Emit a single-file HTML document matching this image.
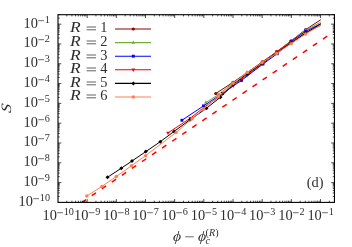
<!DOCTYPE html>
<html><head><meta charset="utf-8"><title>plot</title>
<style>html,body{margin:0;padding:0;background:#fff;}body{width:352px;height:247px;overflow:hidden;font-family:"Liberation Serif",serif;}svg{display:block;position:absolute;left:0;top:0;}text{font-family:"Liberation Serif",serif;}text{filter:grayscale(1);}</style>
</head><body>
<svg width="352" height="247" viewBox="0 0 352 247">
<rect x="0" y="0" width="352" height="247" fill="#fff"/>
<defs><clipPath id="cp"><rect x="58.00" y="14.70" width="276.45" height="187.70"/></clipPath></defs>
<g clip-path="url(#cp)">
<path d="M81.65,202.50 L334.50,31.32" stroke="#ff0000" stroke-width="1.5" stroke-dasharray="5.2 6.94" stroke-dashoffset="0" fill="none"/>
</g>
<path d="M215.80,93.50 L233.00,82.30 L247.50,72.30 L262.30,61.90 L276.80,51.60 L291.10,40.90 L305.65,29.60 L320.80,19.70" stroke="#8b0000" stroke-width="1.0" fill="none" stroke-linejoin="round"/>
<circle cx="215.8" cy="93.5" r="1.6" fill="#8b0000"/>
<circle cx="233" cy="82.3" r="1.6" fill="#8b0000"/>
<circle cx="247.5" cy="72.3" r="1.6" fill="#8b0000"/>
<circle cx="262.3" cy="61.9" r="1.6" fill="#8b0000"/>
<circle cx="276.8" cy="51.6" r="1.6" fill="#8b0000"/>
<circle cx="291.1" cy="40.9" r="1.6" fill="#8b0000"/>
<circle cx="305.65" cy="29.6" r="1.6" fill="#8b0000"/>
<path d="M205.90,102.50 L218.50,94.50 L233.00,82.90 L247.50,72.90 L262.30,62.60 L276.80,52.10 L291.10,41.20 L305.65,30.30 L320.80,22.10" stroke="#72ae33" stroke-width="1.0" fill="none" stroke-linejoin="round"/>
<path d="M205.9,100.3 L207.70000000000002,103.7 L204.1,103.7 Z" fill="#72ae33"/>
<path d="M218.5,92.3 L220.3,95.7 L216.7,95.7 Z" fill="#72ae33"/>
<path d="M233,80.7 L234.8,84.10000000000001 L231.2,84.10000000000001 Z" fill="#72ae33"/>
<path d="M247.5,70.7 L249.3,74.10000000000001 L245.7,74.10000000000001 Z" fill="#72ae33"/>
<path d="M262.3,60.4 L264.1,63.800000000000004 L260.5,63.800000000000004 Z" fill="#72ae33"/>
<path d="M276.8,49.9 L278.6,53.300000000000004 L275.0,53.300000000000004 Z" fill="#72ae33"/>
<path d="M291.1,39.0 L292.90000000000003,42.400000000000006 L289.3,42.400000000000006 Z" fill="#72ae33"/>
<path d="M305.65,28.1 L307.45,31.5 L303.84999999999997,31.5 Z" fill="#72ae33"/>
<path d="M181.90,120.30 L203.50,105.90 L222.50,93.40 L241.50,80.40 L263.00,64.00 L277.20,53.70 L291.10,41.50 L305.65,31.30 L320.80,23.70" stroke="#0000ff" stroke-width="1.0" fill="none" stroke-linejoin="round"/>
<rect x="180.45" y="118.85" width="2.9" height="2.9" fill="#0000ff"/>
<rect x="202.05" y="104.45" width="2.9" height="2.9" fill="#0000ff"/>
<rect x="221.05" y="91.95" width="2.9" height="2.9" fill="#0000ff"/>
<rect x="240.05" y="78.95" width="2.9" height="2.9" fill="#0000ff"/>
<rect x="261.55" y="62.55" width="2.9" height="2.9" fill="#0000ff"/>
<rect x="275.75" y="52.25" width="2.9" height="2.9" fill="#0000ff"/>
<rect x="289.65" y="40.05" width="2.9" height="2.9" fill="#0000ff"/>
<rect x="304.20" y="29.85" width="2.9" height="2.9" fill="#0000ff"/>
<path d="M168.00,132.90 L190.20,118.30 L204.00,107.30 L218.40,97.30 L233.30,85.60 L247.50,74.80 L262.50,63.80 L276.80,51.80 L291.20,42.00 L305.50,33.00 L320.80,25.20" stroke="#f00000" stroke-width="1.0" fill="none" stroke-linejoin="round"/>
<path d="M168,135.1 L169.8,131.70000000000002 L166.2,131.70000000000002 Z" fill="#f00000"/>
<path d="M190.2,120.5 L192.0,117.1 L188.39999999999998,117.1 Z" fill="#f00000"/>
<path d="M218.4,99.5 L220.20000000000002,96.1 L216.6,96.1 Z" fill="#f00000"/>
<path d="M233.3,87.8 L235.10000000000002,84.39999999999999 L231.5,84.39999999999999 Z" fill="#f00000"/>
<path d="M247.5,77.0 L249.3,73.6 L245.7,73.6 Z" fill="#f00000"/>
<path d="M262.5,66.0 L264.3,62.599999999999994 L260.7,62.599999999999994 Z" fill="#f00000"/>
<path d="M276.8,54.0 L278.6,50.599999999999994 L275.0,50.599999999999994 Z" fill="#f00000"/>
<path d="M291.2,44.2 L293.0,40.8 L289.4,40.8 Z" fill="#f00000"/>
<path d="M305.5,35.2 L307.3,31.8 L303.7,31.8 Z" fill="#f00000"/>
<path d="M107.50,177.30 L121.30,168.20 L132.00,161.00 L145.80,151.60 L160.30,141.70 L174.10,131.40 L190.00,119.80 L206.50,108.20 L220.40,97.20 L233.00,84.50 L247.50,73.70 L262.40,63.00 L276.80,52.90 L291.20,43.10 L305.65,33.00 L320.80,23.90" stroke="#000000" stroke-width="1.0" fill="none" stroke-linejoin="round"/>
<path d="M107.5,175.3 L109.5,177.3 L107.5,179.3 L105.5,177.3 Z" fill="#000000"/>
<path d="M121.3,166.2 L123.3,168.2 L121.3,170.2 L119.3,168.2 Z" fill="#000000"/>
<path d="M132,159.0 L134.0,161 L132,163.0 L130.0,161 Z" fill="#000000"/>
<path d="M145.8,149.6 L147.8,151.6 L145.8,153.6 L143.8,151.6 Z" fill="#000000"/>
<path d="M160.3,139.7 L162.3,141.7 L160.3,143.7 L158.3,141.7 Z" fill="#000000"/>
<path d="M174.1,129.4 L176.1,131.4 L174.1,133.4 L172.1,131.4 Z" fill="#000000"/>
<path d="M190,117.8 L192.0,119.8 L190,121.8 L188.0,119.8 Z" fill="#000000"/>
<path d="M206.5,106.2 L208.5,108.2 L206.5,110.2 L204.5,108.2 Z" fill="#000000"/>
<path d="M220.4,95.2 L222.4,97.2 L220.4,99.2 L218.4,97.2 Z" fill="#000000"/>
<path d="M233,82.5 L235.0,84.5 L233,86.5 L231.0,84.5 Z" fill="#000000"/>
<path d="M247.5,71.7 L249.5,73.7 L247.5,75.7 L245.5,73.7 Z" fill="#000000"/>
<path d="M262.4,61.0 L264.4,63.0 L262.4,65.0 L260.4,63.0 Z" fill="#000000"/>
<path d="M276.8,50.9 L278.8,52.9 L276.8,54.9 L274.8,52.9 Z" fill="#000000"/>
<path d="M291.2,41.1 L293.2,43.1 L291.2,45.1 L289.2,43.1 Z" fill="#000000"/>
<path d="M305.65,31.0 L307.65,33.0 L305.65,35.0 L303.65,33.0 Z" fill="#000000"/>
<path d="M86.80,196.00 L101.90,186.40 L116.30,176.50 L131.50,165.70 L145.50,155.70 L176.10,132.40 L192.10,118.80 L203.50,109.00 L218.40,96.50 L233.00,83.30 L247.50,72.40 L262.20,62.60 L276.70,53.30 L291.30,43.60 L305.65,34.00 L320.80,25.00" stroke="#ff7f50" stroke-width="1.0" fill="none" stroke-linejoin="round"/>
<circle cx="86.8" cy="196.0" r="1.7" fill="#ff7f50"/>
<circle cx="101.9" cy="186.4" r="1.7" fill="#ff7f50"/>
<circle cx="116.3" cy="176.5" r="1.7" fill="#ff7f50"/>
<circle cx="131.5" cy="165.7" r="1.7" fill="#ff7f50"/>
<circle cx="145.5" cy="155.7" r="1.7" fill="#ff7f50"/>
<circle cx="176.1" cy="132.4" r="1.7" fill="#ff7f50"/>
<circle cx="192.1" cy="118.8" r="1.7" fill="#ff7f50"/>
<circle cx="203.5" cy="109" r="1.7" fill="#ff7f50"/>
<circle cx="218.4" cy="96.5" r="1.7" fill="#ff7f50"/>
<circle cx="233" cy="83.3" r="1.7" fill="#ff7f50"/>
<circle cx="247.5" cy="72.4" r="1.7" fill="#ff7f50"/>
<circle cx="262.2" cy="62.6" r="1.7" fill="#ff7f50"/>
<circle cx="276.7" cy="53.3" r="1.7" fill="#ff7f50"/>
<circle cx="291.3" cy="43.6" r="1.7" fill="#ff7f50"/>
<circle cx="305.65" cy="34" r="1.7" fill="#ff7f50"/>
<path d="M115,29.0 L151,29.0" stroke="#8b0000" stroke-width="1.1" fill="none"/>
<circle cx="133.3" cy="29.0" r="1.6" fill="#8b0000"/>
<text transform="translate(69.90,32.00) scale(1.28,1)" font-size="13.7" font-style="italic" text-anchor="start" fill="#2e2e2e">R</text>
<path d="M86.60,27.00 H96.00" stroke="#2e2e2e" stroke-width="0.75" fill="none"/>
<path d="M86.60,29.80 H96.00" stroke="#2e2e2e" stroke-width="0.75" fill="none"/>
<text transform="translate(100.30,32.00) scale(1.05,1)" font-size="13.7" text-anchor="start" fill="#2e2e2e">1</text>
<path d="M115,42.6 L151,42.6" stroke="#72ae33" stroke-width="1.1" fill="none"/>
<path d="M133.3,40.4 L135.10000000000002,43.800000000000004 L131.5,43.800000000000004 Z" fill="#72ae33"/>
<text transform="translate(69.90,46.00) scale(1.28,1)" font-size="13.7" font-style="italic" text-anchor="start" fill="#2e2e2e">R</text>
<path d="M86.60,41.00 H96.00" stroke="#2e2e2e" stroke-width="0.75" fill="none"/>
<path d="M86.60,43.80 H96.00" stroke="#2e2e2e" stroke-width="0.75" fill="none"/>
<text transform="translate(100.30,46.00) scale(1.05,1)" font-size="13.7" text-anchor="start" fill="#2e2e2e">2</text>
<path d="M115,56.2 L151,56.2" stroke="#0000ff" stroke-width="1.1" fill="none"/>
<rect x="131.85" y="54.75" width="2.9" height="2.9" fill="#0000ff"/>
<text transform="translate(69.90,60.00) scale(1.28,1)" font-size="13.7" font-style="italic" text-anchor="start" fill="#2e2e2e">R</text>
<path d="M86.60,55.00 H96.00" stroke="#2e2e2e" stroke-width="0.75" fill="none"/>
<path d="M86.60,57.80 H96.00" stroke="#2e2e2e" stroke-width="0.75" fill="none"/>
<text transform="translate(100.30,60.00) scale(1.05,1)" font-size="13.7" text-anchor="start" fill="#2e2e2e">3</text>
<path d="M115,69.8 L151,69.8" stroke="#f00000" stroke-width="1.1" fill="none"/>
<path d="M133.3,72.0 L135.10000000000002,68.6 L131.5,68.6 Z" fill="#f00000"/>
<text transform="translate(69.90,73.00) scale(1.28,1)" font-size="13.7" font-style="italic" text-anchor="start" fill="#2e2e2e">R</text>
<path d="M86.60,68.00 H96.00" stroke="#2e2e2e" stroke-width="0.75" fill="none"/>
<path d="M86.60,70.80 H96.00" stroke="#2e2e2e" stroke-width="0.75" fill="none"/>
<text transform="translate(100.30,73.00) scale(1.05,1)" font-size="13.7" text-anchor="start" fill="#2e2e2e">4</text>
<path d="M115,83.4 L151,83.4" stroke="#000000" stroke-width="1.1" fill="none"/>
<path d="M133.3,81.4 L135.3,83.4 L133.3,85.4 L131.3,83.4 Z" fill="#000000"/>
<text transform="translate(69.90,87.00) scale(1.28,1)" font-size="13.7" font-style="italic" text-anchor="start" fill="#2e2e2e">R</text>
<path d="M86.60,82.00 H96.00" stroke="#2e2e2e" stroke-width="0.75" fill="none"/>
<path d="M86.60,84.80 H96.00" stroke="#2e2e2e" stroke-width="0.75" fill="none"/>
<text transform="translate(100.30,87.00) scale(1.05,1)" font-size="13.7" text-anchor="start" fill="#2e2e2e">5</text>
<path d="M115,97.0 L151,97.0" stroke="#ff7f50" stroke-width="1.1" fill="none"/>
<circle cx="133.3" cy="97.0" r="1.7" fill="#ff7f50"/>
<text transform="translate(69.90,100.00) scale(1.28,1)" font-size="13.7" font-style="italic" text-anchor="start" fill="#2e2e2e">R</text>
<path d="M86.60,95.00 H96.00" stroke="#2e2e2e" stroke-width="0.75" fill="none"/>
<path d="M86.60,97.80 H96.00" stroke="#2e2e2e" stroke-width="0.75" fill="none"/>
<text transform="translate(100.30,100.00) scale(1.05,1)" font-size="13.7" text-anchor="start" fill="#2e2e2e">6</text>
<rect x="58.0" y="14.7" width="276.45" height="187.70" fill="none" stroke="#000" stroke-width="1.1"/>
<path d="M66.78,202.4 v-1.7 M66.78,14.7 v1.7 M58.0,196.44 h1.7 M334.45,196.44 h-1.7 M71.92,202.4 v-1.7 M71.92,14.7 v1.7 M58.0,192.95 h1.7 M334.45,192.95 h-1.7 M75.56,202.4 v-1.7 M75.56,14.7 v1.7 M58.0,190.48 h1.7 M334.45,190.48 h-1.7 M78.39,202.4 v-1.7 M78.39,14.7 v1.7 M58.0,188.56 h1.7 M334.45,188.56 h-1.7 M80.70,202.4 v-1.7 M80.70,14.7 v1.7 M58.0,186.99 h1.7 M334.45,186.99 h-1.7 M82.65,202.4 v-1.7 M82.65,14.7 v1.7 M58.0,185.66 h1.7 M334.45,185.66 h-1.7 M84.34,202.4 v-1.7 M84.34,14.7 v1.7 M58.0,184.51 h1.7 M334.45,184.51 h-1.7 M85.84,202.4 v-1.7 M85.84,14.7 v1.7 M58.0,183.50 h1.7 M334.45,183.50 h-1.7 M87.17,202.4 v-3.3 M87.17,14.7 v3.3 M58.0,182.59 h3.3 M334.45,182.59 h-3.3 M95.95,202.4 v-1.7 M95.95,14.7 v1.7 M58.0,176.63 h1.7 M334.45,176.63 h-1.7 M101.09,202.4 v-1.7 M101.09,14.7 v1.7 M58.0,173.14 h1.7 M334.45,173.14 h-1.7 M104.73,202.4 v-1.7 M104.73,14.7 v1.7 M58.0,170.67 h1.7 M334.45,170.67 h-1.7 M107.56,202.4 v-1.7 M107.56,14.7 v1.7 M58.0,168.75 h1.7 M334.45,168.75 h-1.7 M109.87,202.4 v-1.7 M109.87,14.7 v1.7 M58.0,167.18 h1.7 M334.45,167.18 h-1.7 M111.82,202.4 v-1.7 M111.82,14.7 v1.7 M58.0,165.86 h1.7 M334.45,165.86 h-1.7 M113.51,202.4 v-1.7 M113.51,14.7 v1.7 M58.0,164.71 h1.7 M334.45,164.71 h-1.7 M115.01,202.4 v-1.7 M115.01,14.7 v1.7 M58.0,163.69 h1.7 M334.45,163.69 h-1.7 M116.34,202.4 v-3.3 M116.34,14.7 v3.3 M58.0,162.79 h3.3 M334.45,162.79 h-3.3 M125.12,202.4 v-1.7 M125.12,14.7 v1.7 M58.0,156.83 h1.7 M334.45,156.83 h-1.7 M130.26,202.4 v-1.7 M130.26,14.7 v1.7 M58.0,153.34 h1.7 M334.45,153.34 h-1.7 M133.90,202.4 v-1.7 M133.90,14.7 v1.7 M58.0,150.86 h1.7 M334.45,150.86 h-1.7 M136.73,202.4 v-1.7 M136.73,14.7 v1.7 M58.0,148.94 h1.7 M334.45,148.94 h-1.7 M139.04,202.4 v-1.7 M139.04,14.7 v1.7 M58.0,147.38 h1.7 M334.45,147.38 h-1.7 M140.99,202.4 v-1.7 M140.99,14.7 v1.7 M58.0,146.05 h1.7 M334.45,146.05 h-1.7 M142.68,202.4 v-1.7 M142.68,14.7 v1.7 M58.0,144.90 h1.7 M334.45,144.90 h-1.7 M144.18,202.4 v-1.7 M144.18,14.7 v1.7 M58.0,143.89 h1.7 M334.45,143.89 h-1.7 M145.51,202.4 v-3.3 M145.51,14.7 v3.3 M58.0,142.98 h3.3 M334.45,142.98 h-3.3 M154.29,202.4 v-1.7 M154.29,14.7 v1.7 M58.0,137.02 h1.7 M334.45,137.02 h-1.7 M159.43,202.4 v-1.7 M159.43,14.7 v1.7 M58.0,133.53 h1.7 M334.45,133.53 h-1.7 M163.07,202.4 v-1.7 M163.07,14.7 v1.7 M58.0,131.06 h1.7 M334.45,131.06 h-1.7 M165.90,202.4 v-1.7 M165.90,14.7 v1.7 M58.0,129.14 h1.7 M334.45,129.14 h-1.7 M168.21,202.4 v-1.7 M168.21,14.7 v1.7 M58.0,127.57 h1.7 M334.45,127.57 h-1.7 M170.16,202.4 v-1.7 M170.16,14.7 v1.7 M58.0,126.24 h1.7 M334.45,126.24 h-1.7 M171.85,202.4 v-1.7 M171.85,14.7 v1.7 M58.0,125.10 h1.7 M334.45,125.10 h-1.7 M173.35,202.4 v-1.7 M173.35,14.7 v1.7 M58.0,124.08 h1.7 M334.45,124.08 h-1.7 M174.68,202.4 v-3.3 M174.68,14.7 v3.3 M58.0,123.18 h3.3 M334.45,123.18 h-3.3 M183.46,202.4 v-1.7 M183.46,14.7 v1.7 M58.0,117.21 h1.7 M334.45,117.21 h-1.7 M188.60,202.4 v-1.7 M188.60,14.7 v1.7 M58.0,113.73 h1.7 M334.45,113.73 h-1.7 M192.24,202.4 v-1.7 M192.24,14.7 v1.7 M58.0,111.25 h1.7 M334.45,111.25 h-1.7 M195.07,202.4 v-1.7 M195.07,14.7 v1.7 M58.0,109.33 h1.7 M334.45,109.33 h-1.7 M197.38,202.4 v-1.7 M197.38,14.7 v1.7 M58.0,107.76 h1.7 M334.45,107.76 h-1.7 M199.33,202.4 v-1.7 M199.33,14.7 v1.7 M58.0,106.44 h1.7 M334.45,106.44 h-1.7 M201.02,202.4 v-1.7 M201.02,14.7 v1.7 M58.0,105.29 h1.7 M334.45,105.29 h-1.7 M202.52,202.4 v-1.7 M202.52,14.7 v1.7 M58.0,104.28 h1.7 M334.45,104.28 h-1.7 M203.85,202.4 v-3.3 M203.85,14.7 v3.3 M58.0,103.37 h3.3 M334.45,103.37 h-3.3 M212.63,202.4 v-1.7 M212.63,14.7 v1.7 M58.0,97.41 h1.7 M334.45,97.41 h-1.7 M217.77,202.4 v-1.7 M217.77,14.7 v1.7 M58.0,93.92 h1.7 M334.45,93.92 h-1.7 M221.41,202.4 v-1.7 M221.41,14.7 v1.7 M58.0,91.45 h1.7 M334.45,91.45 h-1.7 M224.24,202.4 v-1.7 M224.24,14.7 v1.7 M58.0,89.53 h1.7 M334.45,89.53 h-1.7 M226.55,202.4 v-1.7 M226.55,14.7 v1.7 M58.0,87.96 h1.7 M334.45,87.96 h-1.7 M228.50,202.4 v-1.7 M228.50,14.7 v1.7 M58.0,86.63 h1.7 M334.45,86.63 h-1.7 M230.19,202.4 v-1.7 M230.19,14.7 v1.7 M58.0,85.48 h1.7 M334.45,85.48 h-1.7 M231.69,202.4 v-1.7 M231.69,14.7 v1.7 M58.0,84.47 h1.7 M334.45,84.47 h-1.7 M233.02,202.4 v-3.3 M233.02,14.7 v3.3 M58.0,83.56 h3.3 M334.45,83.56 h-3.3 M241.80,202.4 v-1.7 M241.80,14.7 v1.7 M58.0,77.60 h1.7 M334.45,77.60 h-1.7 M246.94,202.4 v-1.7 M246.94,14.7 v1.7 M58.0,74.11 h1.7 M334.45,74.11 h-1.7 M250.58,202.4 v-1.7 M250.58,14.7 v1.7 M58.0,71.64 h1.7 M334.45,71.64 h-1.7 M253.41,202.4 v-1.7 M253.41,14.7 v1.7 M58.0,69.72 h1.7 M334.45,69.72 h-1.7 M255.72,202.4 v-1.7 M255.72,14.7 v1.7 M58.0,68.15 h1.7 M334.45,68.15 h-1.7 M257.67,202.4 v-1.7 M257.67,14.7 v1.7 M58.0,66.83 h1.7 M334.45,66.83 h-1.7 M259.36,202.4 v-1.7 M259.36,14.7 v1.7 M58.0,65.68 h1.7 M334.45,65.68 h-1.7 M260.86,202.4 v-1.7 M260.86,14.7 v1.7 M58.0,64.66 h1.7 M334.45,64.66 h-1.7 M262.19,202.4 v-3.3 M262.19,14.7 v3.3 M58.0,63.76 h3.3 M334.45,63.76 h-3.3 M270.97,202.4 v-1.7 M270.97,14.7 v1.7 M58.0,57.80 h1.7 M334.45,57.80 h-1.7 M276.11,202.4 v-1.7 M276.11,14.7 v1.7 M58.0,54.31 h1.7 M334.45,54.31 h-1.7 M279.75,202.4 v-1.7 M279.75,14.7 v1.7 M58.0,51.83 h1.7 M334.45,51.83 h-1.7 M282.58,202.4 v-1.7 M282.58,14.7 v1.7 M58.0,49.91 h1.7 M334.45,49.91 h-1.7 M284.89,202.4 v-1.7 M284.89,14.7 v1.7 M58.0,48.35 h1.7 M334.45,48.35 h-1.7 M286.84,202.4 v-1.7 M286.84,14.7 v1.7 M58.0,47.02 h1.7 M334.45,47.02 h-1.7 M288.53,202.4 v-1.7 M288.53,14.7 v1.7 M58.0,45.87 h1.7 M334.45,45.87 h-1.7 M290.03,202.4 v-1.7 M290.03,14.7 v1.7 M58.0,44.86 h1.7 M334.45,44.86 h-1.7 M291.36,202.4 v-3.3 M291.36,14.7 v3.3 M58.0,43.95 h3.3 M334.45,43.95 h-3.3 M300.14,202.4 v-1.7 M300.14,14.7 v1.7 M58.0,37.99 h1.7 M334.45,37.99 h-1.7 M305.28,202.4 v-1.7 M305.28,14.7 v1.7 M58.0,34.50 h1.7 M334.45,34.50 h-1.7 M308.92,202.4 v-1.7 M308.92,14.7 v1.7 M58.0,32.03 h1.7 M334.45,32.03 h-1.7 M311.75,202.4 v-1.7 M311.75,14.7 v1.7 M58.0,30.11 h1.7 M334.45,30.11 h-1.7 M314.06,202.4 v-1.7 M314.06,14.7 v1.7 M58.0,28.54 h1.7 M334.45,28.54 h-1.7 M316.01,202.4 v-1.7 M316.01,14.7 v1.7 M58.0,27.21 h1.7 M334.45,27.21 h-1.7 M317.70,202.4 v-1.7 M317.70,14.7 v1.7 M58.0,26.07 h1.7 M334.45,26.07 h-1.7 M319.20,202.4 v-1.7 M319.20,14.7 v1.7 M58.0,25.05 h1.7 M334.45,25.05 h-1.7 M320.53,202.4 v-3.3 M320.53,14.7 v3.3 M58.0,24.15 h3.3 M334.45,24.15 h-3.3 M329.31,202.4 v-1.7 M329.31,14.7 v1.7 M58.0,18.18 h1.7 M334.45,18.18 h-1.7 M334.45,202.4 v-1.7 M334.45,14.7 v1.7 M58.0,14.70 h1.7 M334.45,14.70 h-1.7" stroke="#000" stroke-width="0.7" fill="none"/>
<text transform="translate(18.50,206.00) scale(1.05,1)" font-size="13.7" text-anchor="start" fill="#2e2e2e">10</text><path d="M33.20,198.70 H39.00" stroke="#2e2e2e" stroke-width="0.7" fill="none"/><text transform="translate(39.80,201.00) scale(1.05,1)" font-size="9.7" text-anchor="start" fill="#2e2e2e">10</text>
<text transform="translate(42.45,220.00) scale(1.05,1)" font-size="13.7" text-anchor="start" fill="#2e2e2e">10</text><path d="M57.15,212.70 H62.95" stroke="#2e2e2e" stroke-width="0.7" fill="none"/><text transform="translate(63.75,215.00) scale(1.05,1)" font-size="9.7" text-anchor="start" fill="#2e2e2e">10</text>
<text transform="translate(23.50,186.00) scale(1.05,1)" font-size="13.7" text-anchor="start" fill="#2e2e2e">10</text><path d="M38.20,178.70 H44.00" stroke="#2e2e2e" stroke-width="0.7" fill="none"/><text transform="translate(44.80,181.00) scale(1.05,1)" font-size="9.7" text-anchor="start" fill="#2e2e2e">9</text>
<text transform="translate(74.02,220.00) scale(1.05,1)" font-size="13.7" text-anchor="start" fill="#2e2e2e">10</text><path d="M88.72,212.70 H94.52" stroke="#2e2e2e" stroke-width="0.7" fill="none"/><text transform="translate(95.32,215.00) scale(1.05,1)" font-size="9.7" text-anchor="start" fill="#2e2e2e">9</text>
<text transform="translate(23.50,166.00) scale(1.05,1)" font-size="13.7" text-anchor="start" fill="#2e2e2e">10</text><path d="M38.20,158.70 H44.00" stroke="#2e2e2e" stroke-width="0.7" fill="none"/><text transform="translate(44.80,161.00) scale(1.05,1)" font-size="9.7" text-anchor="start" fill="#2e2e2e">8</text>
<text transform="translate(103.19,220.00) scale(1.05,1)" font-size="13.7" text-anchor="start" fill="#2e2e2e">10</text><path d="M117.89,212.70 H123.69" stroke="#2e2e2e" stroke-width="0.7" fill="none"/><text transform="translate(124.49,215.00) scale(1.05,1)" font-size="9.7" text-anchor="start" fill="#2e2e2e">8</text>
<text transform="translate(23.50,146.00) scale(1.05,1)" font-size="13.7" text-anchor="start" fill="#2e2e2e">10</text><path d="M38.20,138.70 H44.00" stroke="#2e2e2e" stroke-width="0.7" fill="none"/><text transform="translate(44.80,141.00) scale(1.05,1)" font-size="9.7" text-anchor="start" fill="#2e2e2e">7</text>
<text transform="translate(132.36,220.00) scale(1.05,1)" font-size="13.7" text-anchor="start" fill="#2e2e2e">10</text><path d="M147.06,212.70 H152.86" stroke="#2e2e2e" stroke-width="0.7" fill="none"/><text transform="translate(153.66,215.00) scale(1.05,1)" font-size="9.7" text-anchor="start" fill="#2e2e2e">7</text>
<text transform="translate(23.50,127.00) scale(1.05,1)" font-size="13.7" text-anchor="start" fill="#2e2e2e">10</text><path d="M38.20,119.70 H44.00" stroke="#2e2e2e" stroke-width="0.7" fill="none"/><text transform="translate(44.80,122.00) scale(1.05,1)" font-size="9.7" text-anchor="start" fill="#2e2e2e">6</text>
<text transform="translate(161.53,220.00) scale(1.05,1)" font-size="13.7" text-anchor="start" fill="#2e2e2e">10</text><path d="M176.23,212.70 H182.03" stroke="#2e2e2e" stroke-width="0.7" fill="none"/><text transform="translate(182.83,215.00) scale(1.05,1)" font-size="9.7" text-anchor="start" fill="#2e2e2e">6</text>
<text transform="translate(23.50,107.00) scale(1.05,1)" font-size="13.7" text-anchor="start" fill="#2e2e2e">10</text><path d="M38.20,99.70 H44.00" stroke="#2e2e2e" stroke-width="0.7" fill="none"/><text transform="translate(44.80,102.00) scale(1.05,1)" font-size="9.7" text-anchor="start" fill="#2e2e2e">5</text>
<text transform="translate(190.70,220.00) scale(1.05,1)" font-size="13.7" text-anchor="start" fill="#2e2e2e">10</text><path d="M205.40,212.70 H211.20" stroke="#2e2e2e" stroke-width="0.7" fill="none"/><text transform="translate(212.00,215.00) scale(1.05,1)" font-size="9.7" text-anchor="start" fill="#2e2e2e">5</text>
<text transform="translate(23.50,87.00) scale(1.05,1)" font-size="13.7" text-anchor="start" fill="#2e2e2e">10</text><path d="M38.20,79.70 H44.00" stroke="#2e2e2e" stroke-width="0.7" fill="none"/><text transform="translate(44.80,82.00) scale(1.05,1)" font-size="9.7" text-anchor="start" fill="#2e2e2e">4</text>
<text transform="translate(219.87,220.00) scale(1.05,1)" font-size="13.7" text-anchor="start" fill="#2e2e2e">10</text><path d="M234.57,212.70 H240.37" stroke="#2e2e2e" stroke-width="0.7" fill="none"/><text transform="translate(241.17,215.00) scale(1.05,1)" font-size="9.7" text-anchor="start" fill="#2e2e2e">4</text>
<text transform="translate(23.50,67.00) scale(1.05,1)" font-size="13.7" text-anchor="start" fill="#2e2e2e">10</text><path d="M38.20,59.70 H44.00" stroke="#2e2e2e" stroke-width="0.7" fill="none"/><text transform="translate(44.80,62.00) scale(1.05,1)" font-size="9.7" text-anchor="start" fill="#2e2e2e">3</text>
<text transform="translate(249.04,220.00) scale(1.05,1)" font-size="13.7" text-anchor="start" fill="#2e2e2e">10</text><path d="M263.74,212.70 H269.54" stroke="#2e2e2e" stroke-width="0.7" fill="none"/><text transform="translate(270.34,215.00) scale(1.05,1)" font-size="9.7" text-anchor="start" fill="#2e2e2e">3</text>
<text transform="translate(23.50,47.00) scale(1.05,1)" font-size="13.7" text-anchor="start" fill="#2e2e2e">10</text><path d="M38.20,39.70 H44.00" stroke="#2e2e2e" stroke-width="0.7" fill="none"/><text transform="translate(44.80,42.00) scale(1.05,1)" font-size="9.7" text-anchor="start" fill="#2e2e2e">2</text>
<text transform="translate(278.21,220.00) scale(1.05,1)" font-size="13.7" text-anchor="start" fill="#2e2e2e">10</text><path d="M292.91,212.70 H298.71" stroke="#2e2e2e" stroke-width="0.7" fill="none"/><text transform="translate(299.51,215.00) scale(1.05,1)" font-size="9.7" text-anchor="start" fill="#2e2e2e">2</text>
<text transform="translate(23.50,28.00) scale(1.05,1)" font-size="13.7" text-anchor="start" fill="#2e2e2e">10</text><path d="M38.20,20.70 H44.00" stroke="#2e2e2e" stroke-width="0.7" fill="none"/><text transform="translate(44.80,23.00) scale(1.05,1)" font-size="9.7" text-anchor="start" fill="#2e2e2e">1</text>
<text transform="translate(307.38,220.00) scale(1.05,1)" font-size="13.7" text-anchor="start" fill="#2e2e2e">10</text><path d="M322.08,212.70 H327.88" stroke="#2e2e2e" stroke-width="0.7" fill="none"/><text transform="translate(328.68,215.00) scale(1.05,1)" font-size="9.7" text-anchor="start" fill="#2e2e2e">1</text>
<text transform="translate(11.2,108.8) rotate(-90) scale(1.3,1.04) skewX(-7)" font-size="13.7" font-style="italic" text-anchor="middle" fill="#2e2e2e">S</text>
<text transform="translate(172.80,241.00) scale(1.05,1) skewX(-5)" font-size="14.6" font-style="italic" text-anchor="start" fill="#2e2e2e">ϕ</text>
<path d="M185.20,236.80 H193.80" stroke="#2e2e2e" stroke-width="0.7" fill="none"/>
<text transform="translate(197.80,241.00) scale(1.05,1) skewX(-5)" font-size="14.6" font-style="italic" text-anchor="start" fill="#2e2e2e">ϕ</text>
<text transform="translate(205.60,244.00) scale(1.05,1)" font-size="9.7" font-style="italic" text-anchor="start" fill="#2e2e2e">c</text>
<text transform="translate(205.60,236.00) scale(1.05,1)" font-size="9.7" text-anchor="start" fill="#2e2e2e">(<tspan font-style="italic">R</tspan>)</text>
<text transform="translate(315.20,187.00) scale(1.05,1)" font-size="13.7" text-anchor="middle" fill="#2e2e2e">(d)</text>
</svg>
</body></html>
